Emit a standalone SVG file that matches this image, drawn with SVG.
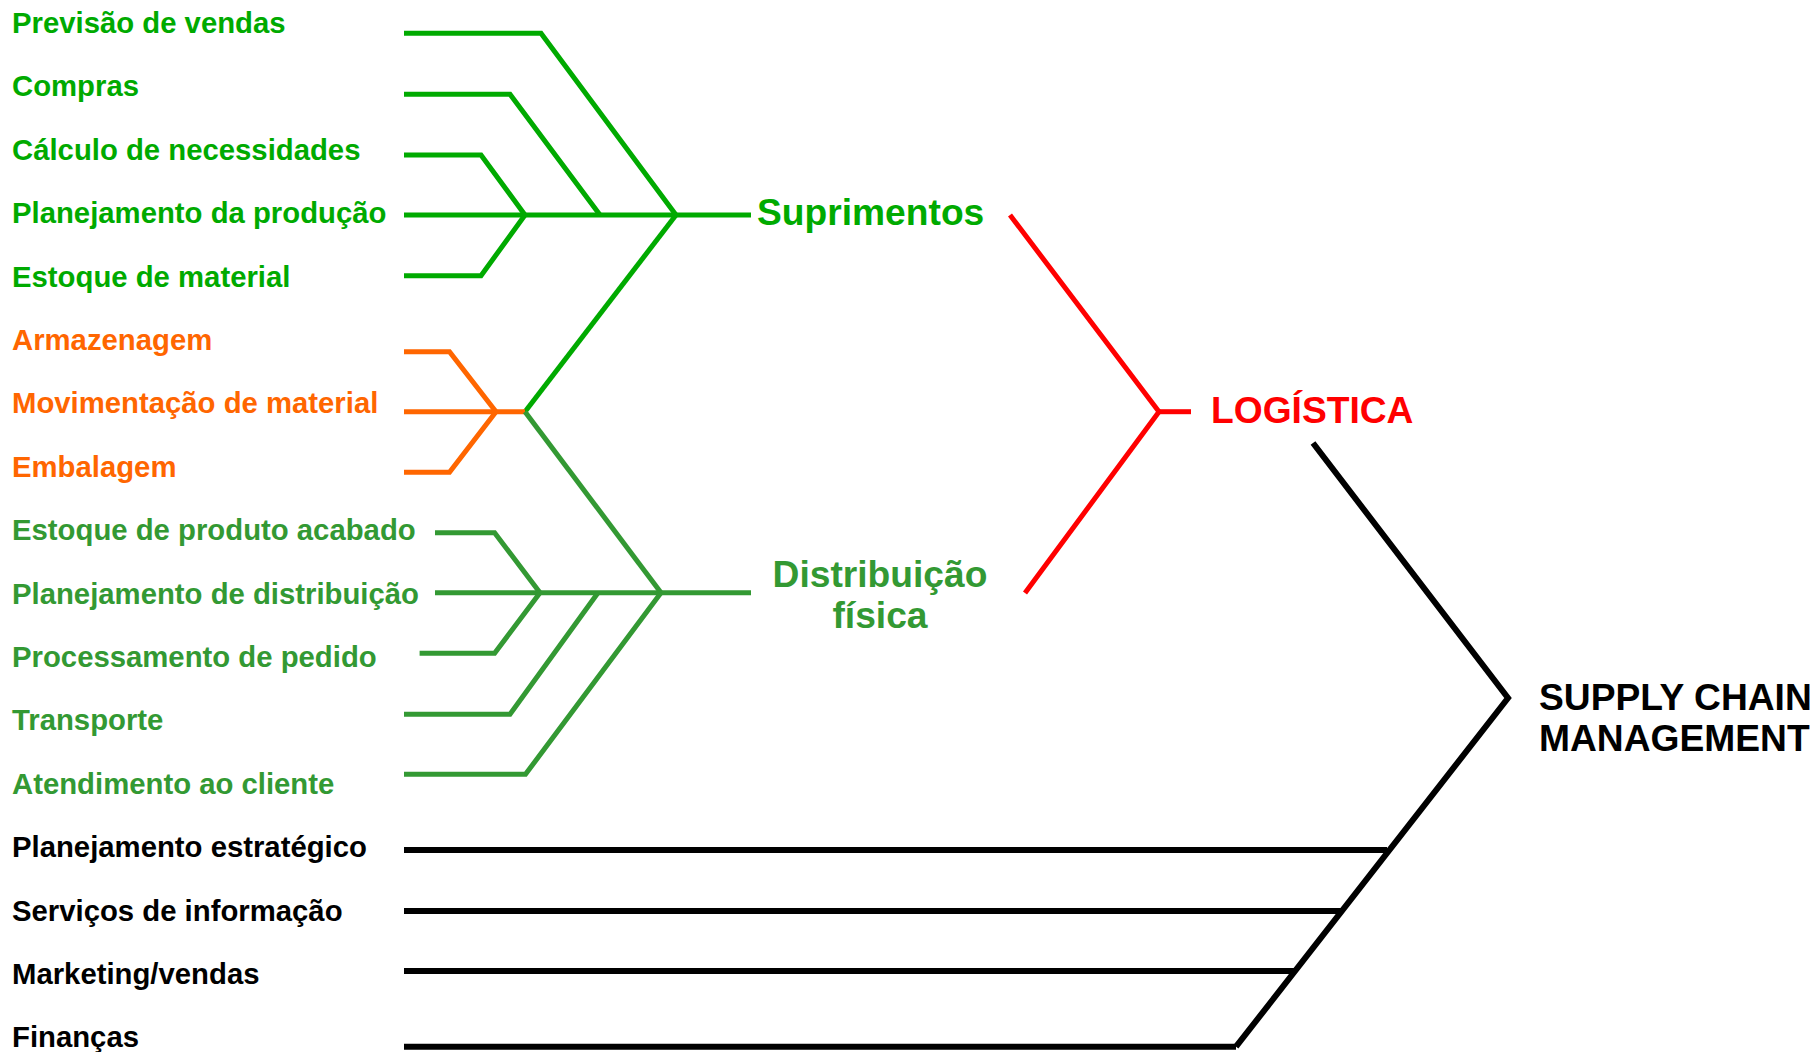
<svg xmlns="http://www.w3.org/2000/svg" width="1814" height="1052" viewBox="0 0 1814 1052">
<style>
text{font-family:"Liberation Sans",Arial,sans-serif;font-weight:bold}
.item{font-size:29.3px}
.big{font-size:37.2px}
.sup{fill:#00AA00}
.dis{fill:#339933}
.ora{fill:#FF6600}
.red{fill:#FF0000}
.blk{fill:#000000}
.ln{fill:none;stroke-linecap:butt;stroke-linejoin:miter}
.lsup{stroke:#00AA00;stroke-width:5}
.ldis{stroke:#339933;stroke-width:5}
.lora{stroke:#FF6600;stroke-width:5}
.lred{stroke:#FF0000;stroke-width:5}
.lblk{stroke:#000000;stroke-width:6}
</style>
<rect width="1814" height="1052" fill="#ffffff"/>
<g id="connectors">
<polyline class="ln lsup" points="404,33.3 541,33.3 676,215"/>
<polyline class="ln lsup" points="404,94.3 510,94.3 600,215"/>
<polyline class="ln lsup" points="404,155 481,155 525,215"/>
<line class="ln lsup" x1="404" y1="215" x2="751" y2="215"/>
<polyline class="ln lsup" points="404,275.7 481,275.7 525,215"/>
<line class="ln lsup" x1="676" y1="215" x2="525" y2="411.7"/>
<polyline class="ln lora" points="404,351.7 449.5,351.7 496,411.7"/>
<line class="ln lora" x1="404" y1="411.7" x2="525" y2="411.7"/>
<polyline class="ln lora" points="404,472.3 449.5,472.3 496,411.7"/>
<line class="ln ldis" x1="525" y1="411.7" x2="661" y2="592.7"/>
<polyline class="ln ldis" points="435,532.7 494.6,532.7 540,592.7"/>
<line class="ln ldis" x1="435" y1="592.7" x2="751" y2="592.7"/>
<polyline class="ln ldis" points="419.6,653.3 494.6,653.3 540,592.7"/>
<polyline class="ln ldis" points="404,714.3 510,714.3 598,592.7"/>
<polyline class="ln ldis" points="404,774.3 525.5,774.3 661,592.7"/>
<polyline class="ln lred" points="1010,215 1159,411.7 1025,593"/>
<line class="ln lred" x1="1159" y1="411.7" x2="1191" y2="411.7"/>
<polyline class="ln lblk" points="1313,443 1508,698 1236,1046.7"/>
<line class="ln lblk" x1="404" y1="850" x2="1387" y2="850"/>
<line class="ln lblk" x1="404" y1="911" x2="1341" y2="911"/>
<line class="ln lblk" x1="404" y1="971" x2="1294" y2="971"/>
<line class="ln lblk" x1="404" y1="1046.7" x2="1236" y2="1046.7"/>
</g>
<g id="n-previsao"><text class="item sup" x="12" y="33">Previsão de vendas</text></g>
<g id="n-compras"><text class="item sup" x="12" y="96.4">Compras</text></g>
<g id="n-calculo"><text class="item sup" x="12" y="159.8">Cálculo de necessidades</text></g>
<g id="n-planprod"><text class="item sup" x="12" y="223.2">Planejamento da produção</text></g>
<g id="n-estmat"><text class="item sup" x="12" y="286.6">Estoque de material</text></g>
<g id="n-armaz"><text class="item ora" x="12" y="350">Armazenagem</text></g>
<g id="n-movim"><text class="item ora" x="12" y="413.4">Movimentação de material</text></g>
<g id="n-embal"><text class="item ora" x="12" y="476.8">Embalagem</text></g>
<g id="n-estprod"><text class="item dis" x="12" y="540.2">Estoque de produto acabado</text></g>
<g id="n-plandist"><text class="item dis" x="12" y="603.6">Planejamento de distribuição</text></g>
<g id="n-proc"><text class="item dis" x="12" y="667">Processamento de pedido</text></g>
<g id="n-transp"><text class="item dis" x="12" y="730.4">Transporte</text></g>
<g id="n-atend"><text class="item dis" x="12" y="793.8">Atendimento ao cliente</text></g>
<g id="n-planestr"><text class="item blk" x="12" y="857.2">Planejamento estratégico</text></g>
<g id="n-serv"><text class="item blk" x="12" y="920.6">Serviços de informação</text></g>
<g id="n-mkt"><text class="item blk" x="12" y="984">Marketing/vendas</text></g>
<g id="n-fin"><text class="item blk" x="12" y="1047.4">Finanças</text></g>
<g id="n-suprimentos"><text class="big sup" x="757" y="225">Suprimentos</text></g>
<g id="n-distribuicao"><text class="big dis" x="880" y="587" text-anchor="middle">Distribuição<tspan x="880" y="628">física</tspan></text></g>
<g id="n-logistica"><text class="big red" x="1211" y="423">LOGÍSTICA</text></g>
<g id="n-scm"><text class="big blk" x="1539" y="710">SUPPLY CHAIN<tspan x="1539" y="751">MANAGEMENT</tspan></text></g>
</svg>
